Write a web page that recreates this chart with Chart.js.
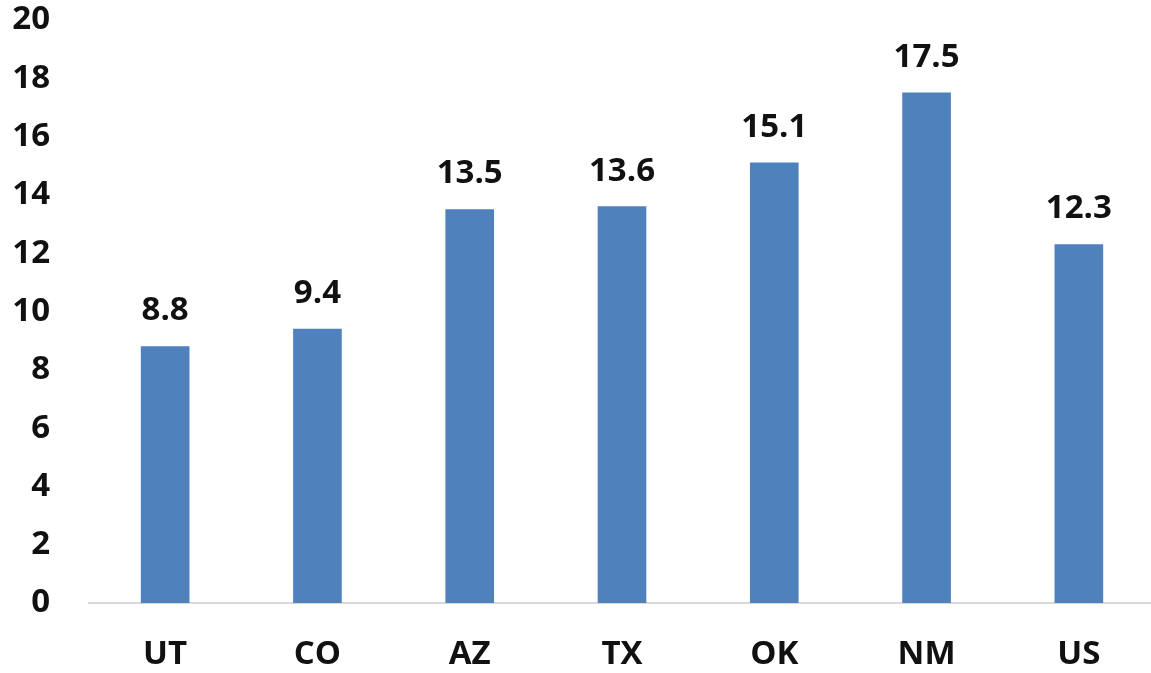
<!DOCTYPE html>
<html>
<head>
<meta charset="utf-8">
<script src="https://cdn.jsdelivr.net/npm/chart.js@4/dist/chart.umd.min.js"></script>
<style>
  html, body { margin: 0; padding: 0; background: #fff; overflow: hidden; }
  #wrap { position: relative; width: 1155px; height: 673px; }
</style>
</head>
<body>
<div id="wrap"><canvas id="c"></canvas></div>
<script>
const categories = ['UT', 'CO', 'AZ', 'TX', 'OK', 'NM', 'US'];
const values = [8.8, 9.4, 13.5, 13.6, 15.1, 17.5, 12.3];
const valueLabels = ['8.8', '9.4', '13.5', '13.6', '15.1', '17.5', '12.3'];
const yMin = 0, yMax = 20, yStep = 2;

const FONT = '"Open Sans", "Noto Sans", sans-serif';

const barLabels = {
  id: 'barLabels',
  afterDatasetsDraw(chart) {
    const ctx = chart.ctx;
    const meta = chart.getDatasetMeta(0);
    ctx.save();
    ctx.font = 'bold 33px ' + FONT;
    ctx.fillStyle = '#111';
    ctx.textAlign = 'center';
    ctx.textBaseline = 'alphabetic';
    meta.data.forEach((bar, i) => {
      ctx.fillText(valueLabels[i], bar.x, bar.y - 26);
    });
    ctx.restore();
  }
};

new Chart(document.getElementById('c'), {
  type: 'bar',
  data: {
    labels: categories,
    datasets: [{
      data: values,
      backgroundColor: '#4F81BD',
      borderWidth: 0,
      barThickness: 48
    }]
  },
  plugins: [barLabels],
  options: {
    responsive: true,
    maintainAspectRatio: false,
    animation: false,
    layout: { padding: { top: 20, right: 0, bottom: 0, left: 0 } },
    plugins: { legend: { display: false }, tooltip: { enabled: false } },
    scales: {
      x: {
        grid: { display: false, drawTicks: false },
        border: { display: true, color: '#d9d9d9', width: 2 },
        ticks: { color: '#111', font: { family: FONT, size: 33, weight: 'bold' }, padding: 32 },
        afterFit(s) { s.height = 70; }
      },
      y: {
        min: yMin, max: yMax,
        grid: { display: false, drawTicks: false },
        border: { display: false },
        ticks: { stepSize: yStep, color: '#111', font: { family: FONT, size: 33, weight: 'bold' }, padding: 39 },
        afterFit(s) { s.width = 89; s.paddingTop = 0; }
      }
    }
  }
});
</script>
</body>
</html>
